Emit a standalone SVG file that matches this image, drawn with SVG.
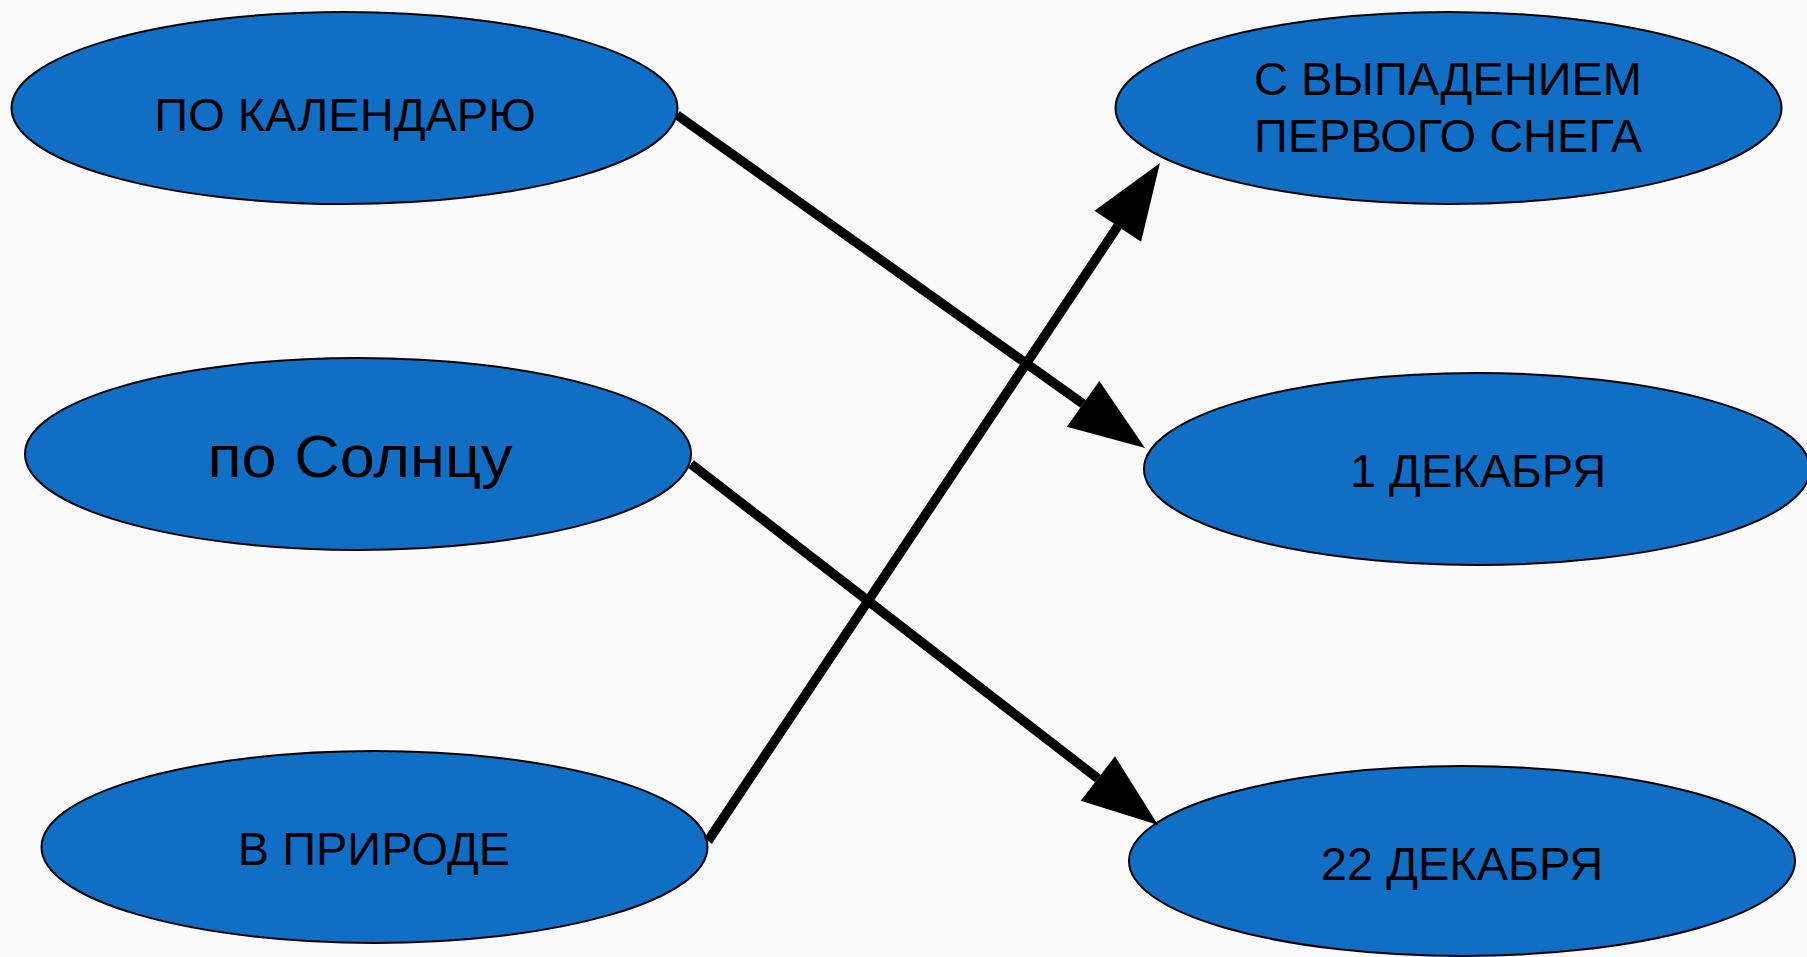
<svg xmlns="http://www.w3.org/2000/svg" width="1807" height="957" viewBox="0 0 1807 957">
<style>
.node ellipse{fill:#116EC5;stroke:#000;stroke-width:2}
.node text{font-family:"Liberation Sans",Arial,sans-serif;font-size:47px;fill:#000;text-anchor:middle}
.conn line{stroke:#000;stroke-width:9.5}
</style>
<defs>
<marker id="ah" markerUnits="userSpaceOnUse" markerWidth="80" markerHeight="60" viewBox="0 -30 80 60" refX="0" refY="0" orient="auto" overflow="visible">
<path d="M0,-28 L76,0 L0,28 Z" fill="#000"/>
</marker>
</defs>
<rect width="1807" height="957" fill="#fafafa"/>
<g id="n1" class="node"><ellipse cx="344.5" cy="108" rx="333" ry="96"/><text x="345" y="130.5">ПО КАЛЕНДАРЮ</text></g>
<g id="n2" class="node"><ellipse cx="358" cy="454" rx="333" ry="96"/><text x="360" y="477" style="font-size:60px" textLength="305" lengthAdjust="spacingAndGlyphs">по Солнцу</text></g>
<g id="n3" class="node"><ellipse cx="374.5" cy="847" rx="333" ry="96"/><text x="374" y="865">В ПРИРОДЕ</text></g>
<g id="n4" class="node"><ellipse cx="1448.5" cy="108" rx="333" ry="96"/><text x="1448" y="95">С ВЫПАДЕНИЕМ</text><text x="1448" y="152">ПЕРВОГО СНЕГА</text></g>
<g id="n5" class="node"><ellipse cx="1477" cy="469" rx="333" ry="96"/><text x="1478" y="487">1 ДЕКАБРЯ</text></g>
<g id="n6" class="node"><ellipse cx="1462" cy="861" rx="333" ry="95"/><text x="1462" y="880">22 ДЕКАБРЯ</text></g>
<g id="connectors" class="conn">
<line x1="677" y1="115" x2="1083.1" y2="403.9" marker-end="url(#ah)"/>
<line x1="691" y1="464" x2="1097.9" y2="778.5" marker-end="url(#ah)"/>
<line x1="708" y1="841" x2="1117.8" y2="226.2" marker-end="url(#ah)"/>
</g>
</svg>
